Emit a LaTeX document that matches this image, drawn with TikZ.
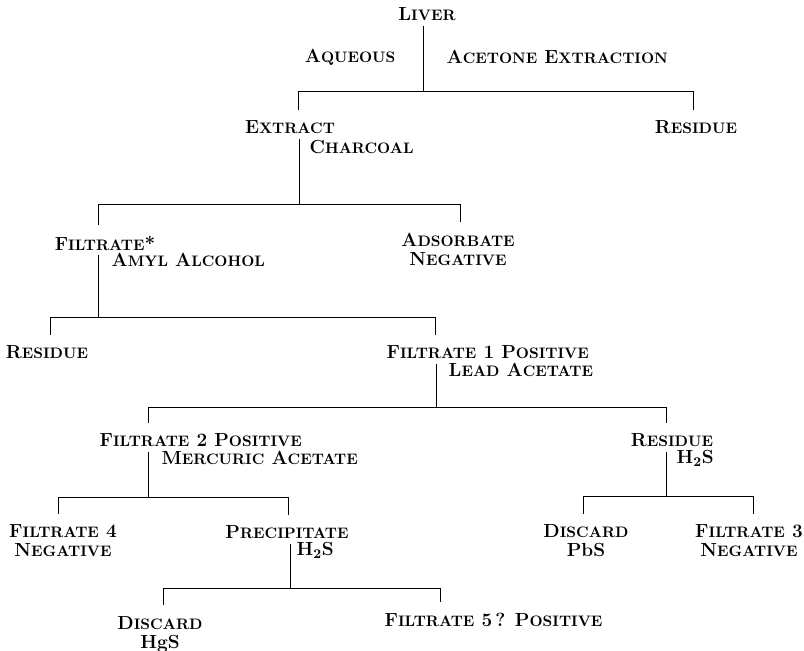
\documentclass[tikz,border=0pt]{standalone}
\usetikzlibrary{positioning}

% fake small caps: first letter full size, the rest smaller
\newcommand\sk[1]{{\fontsize{10.8}{12}\selectfont #1}}

\begin{document}
\begin{tikzpicture}[x=0.025cm, y=-0.025cm, font=\fontsize{13.5}{13.5}\selectfont\bfseries]

    % Styles for labels and the connecting lines
    \tikzset{lbl/.style={inner sep=1pt, align=center},
             ln/.style={line width=0.7pt},
             tick/.style={ln, shorten >=6.5pt},
             feed/.style={ln, shorten <=2.5pt}}

    \useasboundingbox (0,0) rectangle (804,651);

    % Vertical positions of the bars
    \def\ybarA{91}
    \def\ybarB{204}
    \def\ybarC{317}
    \def\ybarD{407}
    \def\ybarE{497}
    \def\ybarF{588}

    % --- Liver, acetone extraction ---
    \node[lbl] (liver) at (427,14) {L\sk{IVER}};
    \node[lbl, anchor=east] (aqueous) at (397,57) {A\sk{QUEOUS}};
    \node[lbl, anchor=west] (acetone) at (445,57) {A\sk{CETONE} E\sk{XTRACTION}};
    \coordinate (jA) at (423,\ybarA);
    \coordinate (bAl) at (298,\ybarA);
    \coordinate (bAr) at (693,\ybarA);

    \node[lbl] (extract) at (290,127) {E\sk{XTRACT}};
    \node[lbl] (residueA) at (696,127) {R\sk{ESIDUE}};

    \draw[feed] (liver.south -| jA) -- (jA);
    \draw[ln] (bAl) -- (bAr);
    \draw[tick] (bAl) -- (extract.north -| bAl);
    \draw[tick] (bAr) -- (residueA.north -| bAr);

    % --- Charcoal ---
    \node[lbl, anchor=west] (charcoal) at (308,147) {C\sk{HARCOAL}};
    \coordinate (jB) at (299,\ybarB);
    \coordinate (bBl) at (98,\ybarB);
    \coordinate (bBr) at (460,\ybarB);

    \node[lbl] (filtrate) at (105,243) {F\sk{ILTRATE}*};
    \node[lbl] (adsorbate) at (458,249) {A\sk{DSORBATE}\\N\sk{EGATIVE}};

    \draw[feed] (extract.south -| jB) -- (jB);
    \draw[ln] (bBl) -- (bBr);
    \draw[tick] (bBl) -- (filtrate.north -| bBl);
    \draw[tick] (bBr) -- (adsorbate.north -| bBr);

    % --- Amyl alcohol ---
    \node[lbl, anchor=west] (amyl) at (110,260) {A\sk{MYL} A\sk{LCOHOL}};
    \coordinate (jC) at (98,\ybarC);
    \coordinate (bCl) at (50,\ybarC);
    \coordinate (bCr) at (435,\ybarC);

    \node[lbl] (residueB) at (47,352) {R\sk{ESIDUE}};
    \node[lbl, anchor=west] (filtone) at (385,352) {F\sk{ILTRATE} 1 P\sk{OSITIVE}};

    \draw[feed] (filtrate.south -| jC) -- (jC);
    \draw[ln] (bCl) -- (bCr);
    \draw[tick] (bCl) -- (residueB.north -| bCl);
    \draw[tick] (bCr) -- (filtone.north -| bCr);

    % --- Lead acetate ---
    \node[lbl, anchor=west] (lead) at (447,370) {L\sk{EAD} A\sk{CETATE}};
    \coordinate (jD) at (436,\ybarD);
    \coordinate (bDl) at (148,\ybarD);
    \coordinate (bDr) at (666,\ybarD);

    \node[lbl, anchor=west] (filttwo) at (98,440) {F\sk{ILTRATE} 2 P\sk{OSITIVE}};
    \node[lbl] (residueC) at (672,440) {R\sk{ESIDUE}};

    \draw[feed] (filtone.south -| jD) -- (jD);
    \draw[ln] (bDl) -- (bDr);
    \draw[tick] (bDl) -- (filttwo.north -| bDl);
    \draw[tick] (bDr) -- (residueC.north -| bDr);

    % --- Mercuric acetate ---
    \node[lbl, anchor=west] (mercuric) at (160,458) {M\sk{ERCURIC} A\sk{CETATE}};
    \coordinate (jE) at (148,\ybarE);
    \coordinate (bEl) at (58,\ybarE);
    \coordinate (bEr) at (288,\ybarE);

    \node[lbl] (filtfour) at (63,541) {F\sk{ILTRATE} 4\\N\sk{EGATIVE}};
    \node[lbl] (precip) at (287,532) {P\sk{RECIPITATE}};

    \draw[feed] (filttwo.south -| jE) -- (jE);
    \draw[ln] (bEl) -- (bEr);
    \draw[tick] (bEl) -- (filtfour.north -| bEl);
    \draw[tick] (bEr) -- (precip.north -| bEr);

    % --- H2S on the residue ---
    \node[lbl, anchor=west] (hsA) at (675,458) {H\textsubscript{2}S};
    \coordinate (jG) at (666,496);
    \coordinate (bGl) at (583,496);
    \coordinate (bGr) at (753,496);

    \node[lbl] (discardA) at (586,541) {D\sk{ISCARD}\\PbS};
    \node[lbl] (filtthree) at (749,541) {F\sk{ILTRATE} 3\\N\sk{EGATIVE}};

    \draw[feed] (residueC.south -| jG) -- (jG);
    \draw[ln] (bGl) -- (bGr);
    \draw[tick] (bGl) -- (discardA.north -| bGl);
    \draw[tick] (bGr) -- (filtthree.north -| bGr);

    % --- H2S on the precipitate ---
    \node[lbl, anchor=west] (hsB) at (295,550) {H\textsubscript{2}S};
    \coordinate (jF) at (290,\ybarF);
    \coordinate (bFl) at (163,\ybarF);
    \coordinate (bFr) at (440,\ybarF);

    \node[lbl] (discardB) at (160,634) {D\sk{ISCARD}\\HgS};
    \node[lbl, anchor=west] (filtfive) at (383,620) {F\sk{ILTRATE} 5\,? P\sk{OSITIVE}};

    \draw[feed] (precip.south -| jF) -- (jF);
    \draw[ln] (bFl) -- (bFr);
    \draw[tick] (bFl) -- (discardB.north -| bFl);
    \draw[tick] (bFr) -- (filtfive.north -| bFr);
\end{tikzpicture}
\end{document}
